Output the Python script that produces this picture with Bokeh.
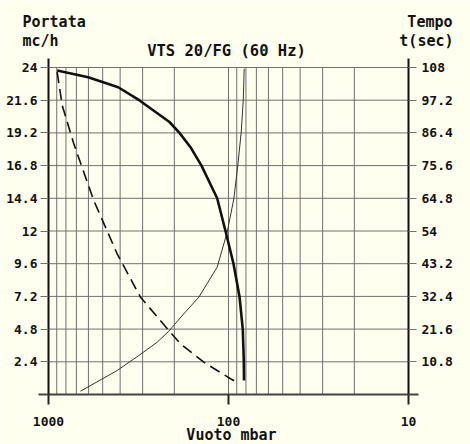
from bokeh.plotting import figure
from bokeh.models import Range1d, LinearAxis, LogAxis, FixedTicker, Label
from bokeh.embed import file_html
from bokeh.resources import INLINE
import math

# ---- data ----
# solid thick curve: Portata (mc/h) vs Vuoto (mbar)
vuoto_portata = [894.9, 601.9, 410.1, 313.3, 212.8, 187.2, 162.6, 141.3, 115.6, 103.9, 93.8, 86.9, 83.3, 82.2, 82.0]
portata = [23.78, 23.29, 22.55, 21.6, 20.0, 19.2, 18.15, 16.8, 14.4, 12.0, 9.6, 7.2, 4.8, 2.4, 1.03]

# dashed curve (right scale)
vuoto_tratteggio = [894.9, 839.1, 723.6, 560.4, 415.4, 308.2, 214.7, 184.8, 137.2, 97.5, 87.7]
tempo_tratteggio = [106.45, 95.45, 82.80, 64.07, 46.47, 32.14, 21.14, 16.74, 10.67, 5.19, 3.73]

# thin curve: Tempo t(sec) vs Vuoto (mbar)
vuoto_tempo = [664.2, 415.4, 314.9, 248.9, 214.7, 177.2, 146.2, 115.6, 101.7, 93.4, 88.8, 85.0, 82.8, 81.8]
tempo = [1.09, 7.93, 12.88, 17.27, 20.91, 26.65, 32.14, 42.05, 53.6, 64.64, 75.63, 86.63, 97.1, 107.57]

portata_range = [0, 24]
portata_ticks = [2.4, 4.8, 7.2, 9.6, 12, 14.4, 16.8, 19.2, 21.6, 24]
portata_labels = ["2.4", "4.8", "7.2", "9.6", "12", "14.4", "16.8", "19.2", "21.6", "24"]
tempo_range = [0, 108]
tempo_ticks = [10.8, 21.6, 32.4, 43.2, 54, 64.8, 75.6, 86.4, 97.2, 108]
tempo_labels = ["10.8", "21.6", "32.4", "43.2", "54", "64.8", "75.6", "86.4", "97.2", "108"]
vuoto_range = [1000, 10]
vuoto_ticks = [1000, 100, 10]
vuoto_labels = ["1000", "100", "10"]
vuoto_grid = [900, 800, 700, 600, 500, 400, 300, 200, 100, 90, 80, 70, 60, 50, 40, 30, 20]

# ---- layout (pixels) ----
W, H = 470, 444
PX_X0, PX_X1 = 48, 408      # where the x range ends sit
PX_Y1, PX_Y0 = 67, 394      # where the y range ends sit (top, bottom)

lx0, lx1 = math.log10(vuoto_range[0]), math.log10(vuoto_range[1])
dpx = (lx0 - lx1) / (PX_X1 - PX_X0)
x_start = 10 ** (lx0 + PX_X0 * dpx)
x_end = 10 ** (lx1 - (W - PX_X1) * dpx)
uy = (portata_range[1] - portata_range[0]) / (PX_Y0 - PX_Y1)
y_start = portata_range[0] - (H - PX_Y0) * uy
y_end = portata_range[1] + PX_Y1 * uy
k = (tempo_range[1] - tempo_range[0]) / (portata_range[1] - portata_range[0])

BG = "#fffff0"
FONT = "DejaVu Sans Mono"
GRID = "#707070"
INK = "#111111"

p = figure(width=W, height=H, x_axis_type="log",
           x_range=Range1d(x_start, x_end), y_range=Range1d(y_start, y_end),
           x_axis_location=None, y_axis_location=None,
           output_backend="svg", toolbar_location=None,
           min_border=0, min_border_left=0, min_border_right=0,
           min_border_top=0, min_border_bottom=0,
           background_fill_color=BG, border_fill_color=BG, outline_line_color=None)
p.grid.visible = False
p.extra_y_ranges = {"t": Range1d(y_start * k, y_end * k)}

def style(ax, out, size="13px", standoff=3, color=GRID, width=1):
    ax.axis_line_color = None
    ax.major_tick_in = 0
    ax.major_tick_out = out
    ax.major_tick_line_color = color
    ax.major_tick_line_width = width
    ax.minor_tick_line_color = None
    ax.major_label_text_font = FONT
    ax.major_label_text_font_style = "bold"
    ax.major_label_text_font_size = size
    ax.major_label_text_color = INK
    ax.major_label_standoff = standoff
    return ax

left = style(LinearAxis(fixed_location=vuoto_range[0], ticker=FixedTicker(ticks=portata_ticks),
                        major_label_overrides=dict(zip(portata_ticks, portata_labels))), 8, standoff=3)
right = style(LinearAxis(fixed_location=vuoto_range[1], y_range_name="t",
                         ticker=FixedTicker(ticks=tempo_ticks),
                         major_label_overrides=dict(zip(tempo_ticks, tempo_labels))), 8, standoff=5)
bottom = style(LogAxis(fixed_location=portata_range[0], ticker=FixedTicker(ticks=vuoto_ticks),
                       major_label_overrides=dict(zip(vuoto_ticks, vuoto_labels))),
               10, standoff=12, color="#222222", width=2)
# unlabelled extensions of the frame lines
top = style(LogAxis(fixed_location=portata_range[1], ticker=FixedTicker(ticks=vuoto_range)),
            9, size="10px", color=INK, width=2)
top.major_label_text_color = None
left0 = style(LinearAxis(fixed_location=vuoto_range[0], ticker=FixedTicker(ticks=portata_range[:1])),
              10, size="10px", color="#444444", width=2)
left0.major_label_text_color = None
right0 = style(LinearAxis(fixed_location=vuoto_range[1], y_range_name="t",
                          ticker=FixedTicker(ticks=tempo_range[:1])),
               10, size="10px", color="#444444", width=2)
right0.major_label_text_color = None

p.add_layout(left, "left")
p.add_layout(left0, "left")
p.add_layout(right, "right")
p.add_layout(right0, "right")
p.add_layout(bottom, "below")
p.add_layout(top, "above")

# grid lines
p.segment(x0=vuoto_range[0], y0=portata_ticks, x1=vuoto_range[1], y1=portata_ticks,
          line_color=GRID, line_width=1)
p.segment(x0=vuoto_grid, y0=portata_range[0], x1=vuoto_grid, y1=portata_range[1],
          line_color=GRID, line_width=1)
# frame lines
p.segment(x0=vuoto_range[0], y0=portata_range[0], x1=vuoto_range[1], y1=portata_range[0],
          line_color="#444444", line_width=2)
p.segment(x0=vuoto_range, y0=portata_range[0], x1=vuoto_range, y1=portata_range[1],
          line_color=INK, line_width=2)

# curves
p.line(vuoto_tempo, tempo, y_range_name="t", line_color="#333333", line_width=1)
p.line(vuoto_tratteggio, tempo_tratteggio, y_range_name="t", line_color=INK,
       line_width=1.6, line_dash="11 6")
p.line(vuoto_portata, portata, line_color=INK, line_width=2.6, line_join="round")

def lab(text, x, y, xo, yo, align, size="15px"):
    p.add_layout(Label(x=x, y=y, x_offset=xo, y_offset=yo, text=text,
                       text_font=FONT, text_font_style="bold", text_font_size=size,
                       text_color=INK, text_align=align, text_baseline="alphabetic"))

lab("Portata", vuoto_range[0], portata_range[1], -26, 46, "left")
lab("mc/h", vuoto_range[0], portata_range[1], -26, 27, "left")
lab("Tempo", vuoto_range[1], portata_range[1], 44, 46, "right")
lab("t(sec)", vuoto_range[1], portata_range[1], 45, 27, "right")
lab("VTS 20/FG (60 Hz)", 100, portata_range[1], -2, 17, "center", "15.5px")
lab("Vuoto mbar", 100, portata_range[0], 3, -40, "center", "15px")

html = file_html(p, INLINE, title="VTS 20/FG (60 Hz)")
open("out.html", "w").write(html)
